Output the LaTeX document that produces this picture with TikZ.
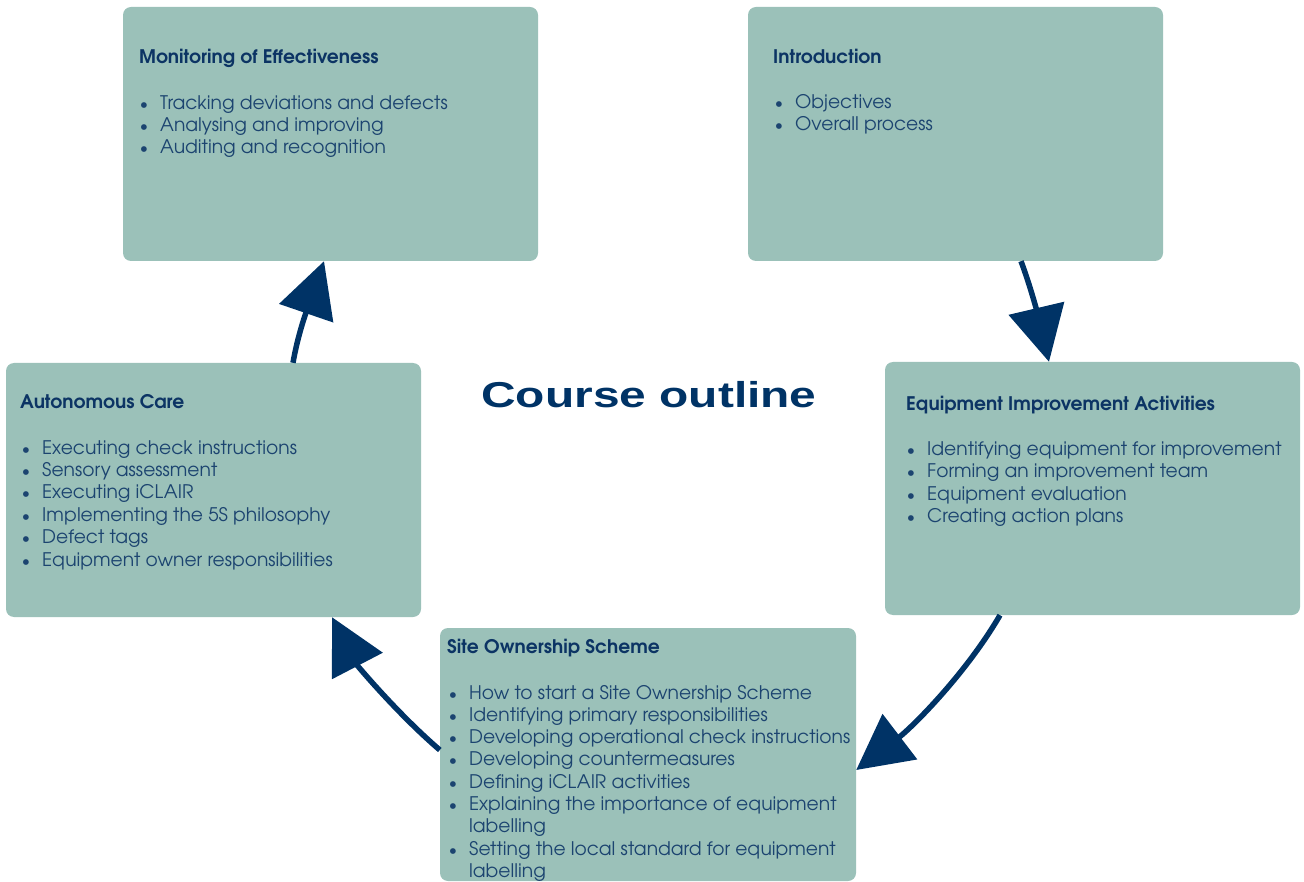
\documentclass[tikz,border=0pt]{standalone}
\usepackage{graphicx}
\usepackage{fontspec}
\setmainfont{texgyreadventor}[Extension=.otf,UprightFont=*-regular,BoldFont=*-bold,ItalicFont=*-italic,BoldItalicFont=*-bolditalic]
\newfontfamily\arialfont{Liberation Sans}
\usetikzlibrary{arrows.meta}
\definecolor{boxfill}{RGB}{155,193,185}
\definecolor{navy}{RGB}{0,51,102}
\definecolor{titlecol}{RGB}{12,52,100}
\definecolor{bodycol}{RGB}{28,68,112}
\newcommand\bul{\llap{\scalebox{0.85}{\textbullet}\hspace{12pt}}}
\tikzset{
 card/.style={fill=boxfill, draw=none, rounded corners=8pt, inner sep=0pt, minimum width=415pt, minimum height=254pt},
 ttl/.style={anchor=base west, inner sep=0pt, text=titlecol, font=\fontsize{18.7}{22}\selectfont\bfseries},
 itm/.style={anchor=base west, inner sep=0pt, text=bodycol, font=\fontsize{18.7}{22}\selectfont},
 arr/.style={draw=navy, line width=5.5pt, -{Triangle[length=55pt,width=56pt]}},
}
\begin{document}
\begin{tikzpicture}[x=1pt,y=-1pt]
\useasboundingbox (0,0) rectangle (1304,882);
% boxes
\node[card] (mon) at (330.5,134) {};
\node[card] (intro) at (955.5,134) {};
\node[card] (auto) at (213.5,490) {};
\node[card, minimum height=253pt] (equip) at (1092.5,488.5) {};
\node[card, minimum width=416pt, minimum height=253pt] (site) at (648,754.5) {};
% Monitoring
\node[ttl] (mon-t) at (139,64) {Monitoring of Effectiveness};
\foreach \t [count=\i] in {Tracking deviations and defects, Analysing and improving, Auditing and recognition}
  \node[itm] (mon-\i) at (160,{110+22*(\i-1)}) {\bul\t};
% Introduction
\node[ttl] (intro-t) at (773,64) {Introduction};
\foreach \t [count=\i] in {Objectives, Overall process}
  \node[itm] (intro-\i) at (795,{108.5+22.5*(\i-1)}) {\bul\t};
% Autonomous Care
\node[ttl] (auto-t) at (20,409) {Autonomous Care};
\foreach \t [count=\i] in {Executing check instructions, Sensory assessment, Executing iCLAIR, Implementing the 5S philosophy, Defect tags, Equipment owner responsibilities}
  \node[itm] (auto-\i) at (42,{454+22.4*(\i-1)}) {\bul\t};
% Equipment Improvement
\node[ttl] (equip-t) at (906,411) {Equipment Improvement Activities};
\foreach \t [count=\i] in {Identifying equipment for improvement, Forming an improvement team, Equipment evaluation, Creating action plans}
  \node[itm] (equip-\i) at (927,{455+22.6*(\i-1)}) {\bul\t};
% Site Ownership
\node[ttl] (site-t) at (447,653) {Site Ownership Scheme};
\foreach \t [count=\i] in {\bul How to start a Site Ownership Scheme, \bul Identifying primary responsibilities, \bul Developing operational check instructions, \bul Developing countermeasures, \bul Defining iCLAIR activities, \bul Explaining the importance of equipment, labelling, \bul Setting the local standard for equipment, labelling}
  \node[itm] (site-\i) at (469,{699+22.3*(\i-1)}) {\t};
% centre title
\node[anchor=base, inner sep=0pt, text=navy, font=\arialfont\fontsize{36}{40}\selectfont\bfseries] (co) at (649,407) {\scalebox{1.33}[1]{Course outline}};
% arrows
\draw[arr] ([xshift=79.5pt]auto.north) .. controls +(6,-35) and +(-12,35) .. ([xshift=-6.5pt]mon.south);
\draw[arr] ([xshift=65.5pt]intro.south) .. controls +(12,32) and +(-8,-34) .. ([xshift=-43.5pt]equip.north);
\draw[arr] ([xshift=-92.5pt]equip.south) .. controls +(-35,60) and +(55,-42) .. ([yshift=-15.5pt]site.east);
\draw[arr] ([yshift=4.5pt]site.west) .. controls +(-42,-36) and +(25,48) .. ([xshift=118.5pt]auto.south);
\end{tikzpicture}
\end{document}
